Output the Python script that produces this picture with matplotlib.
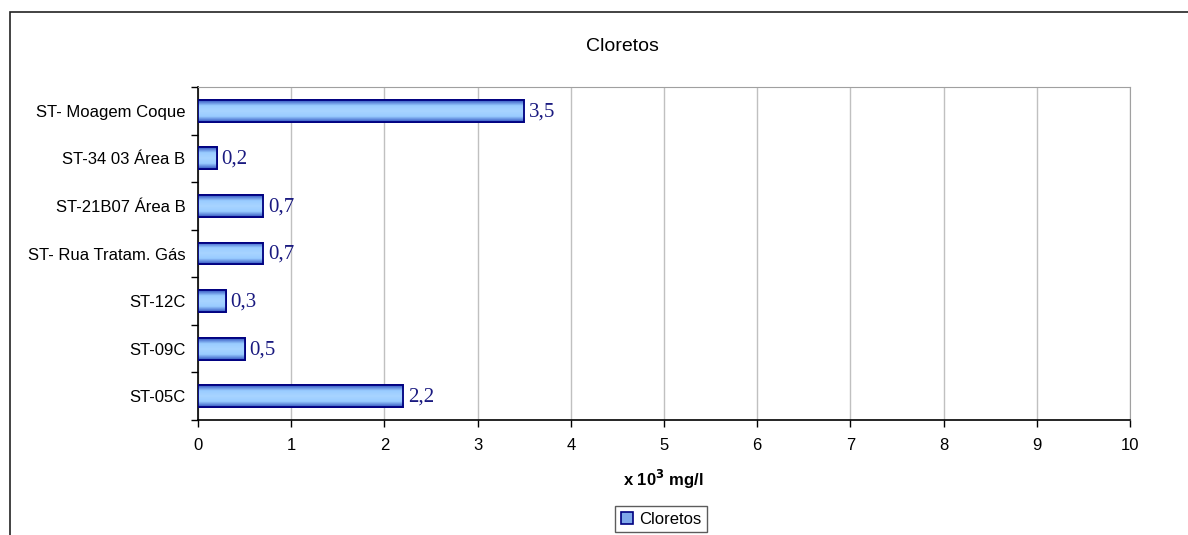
import matplotlib.pyplot as plt
import numpy as np
from matplotlib.colors import LinearSegmentedColormap
from matplotlib.patches import Rectangle

# data (bottom to top, as drawn)
estacoes = ["ST-05C", "ST-09C", "ST-12C", "ST- Rua Tratam. Gás",
            "ST-21B07 Área B", "ST-34 03 Área B", "ST- Moagem Coque"]
cloretos = [2.2, 0.5, 0.3, 0.7, 0.7, 0.2, 3.5]
rotulos = ["2,2", "0,5", "0,3", "0,7", "0,7", "0,2", "3,5"]
xticks = list(range(0, 11))

fig = plt.figure(figsize=(11.88, 5.35), dpi=100)
ax = fig.add_axes([198 / 1188, 1 - 420 / 535, (1130 - 198) / 1188, (420 - 87) / 535])

# outer chart border (left/top only visible)
fig.patches.append(Rectangle((10 / 1188, -0.1), 1.2, 1.1 - 11.5 / 535,
                             transform=fig.transFigure, fill=False,
                             edgecolor="#222222", linewidth=1.2))

y = np.arange(len(estacoes))
bars = ax.barh(y, cloretos, height=0.46, color="#8fbcf5",
               edgecolor="#000080", linewidth=1.3, zorder=3, label="Cloretos")

# vertical gradient inside the bars
cmap = LinearSegmentedColormap.from_list("grad", ["#3355c0", "#99ccff", "#a8d4ff", "#99ccff", "#3355c0"])
grad = np.linspace(0, 1, 64).reshape(-1, 1)
for b in bars:
    x0, y0 = b.get_x(), b.get_y()
    im = ax.imshow(grad, cmap=cmap, aspect="auto", zorder=3.5,
                   extent=[x0, x0 + b.get_width(), y0, y0 + b.get_height()])
    im.set_clip_path(b)
    ax.add_patch(Rectangle((x0, y0), b.get_width(), b.get_height(), fill=False,
                           edgecolor="#000080", linewidth=1.3, zorder=4))

for yi, v, t in zip(y, cloretos, rotulos):
    ax.text(v + 0.05, yi - 0.02, t, va="center", ha="left", color="#1a1a80",
            fontsize=15, family="Liberation Serif", zorder=5)

ax.set_xlim(0, 10)
ax.set_ylim(-0.5, len(estacoes) - 0.5)
ax.set_xticks(xticks)
ax.set_xticklabels([str(t) for t in xticks], fontsize=12, family="Liberation Sans")
ax.set_yticks(y)
ax.set_yticklabels(estacoes, fontsize=12, family="Liberation Sans")
ax.tick_params(axis="y", length=0, pad=9)
ax.set_yticks(np.arange(-0.5, len(estacoes), 1), minor=True)
ax.tick_params(axis="y", which="minor", length=5, direction="out", width=1)
ax.tick_params(axis="x", length=5, direction="out", width=1, pad=8)

ax.grid(axis="x", color="#c0c0c0", linewidth=1, zorder=0)
ax.set_axisbelow(True)
for s in ["top", "right"]:
    ax.spines[s].set_color("#a0a0a0")
for s in ["left", "bottom"]:
    ax.spines[s].set_color("black")
    ax.spines[s].set_linewidth(1.2)

fig.text(622 / 1188, 1 - 47 / 535, "Cloretos", ha="center", va="center",
         fontsize=14, family="Liberation Sans")
fig.text(663 / 1188, 1 - 479 / 535, r"x 10$^{\mathbf{3}}$ mg/l", ha="center", va="center",
         fontsize=12, fontweight="bold", family="Liberation Sans")

leg = fig.legend(handles=[Rectangle((0, 0), 1, 1, facecolor="#7fa8ea", edgecolor="#000080", linewidth=1.2)],
                 labels=["Cloretos"], loc="center", bbox_to_anchor=(661 / 1188, 1 - 519 / 535),
                 fancybox=False, edgecolor="#333333", handlelength=0.7, handleheight=0.7,
                 handletextpad=0.35, borderpad=0.35, prop={"family": "Liberation Sans", "size": 12})
leg.get_frame().set_linewidth(1)

fig.savefig("out.png", dpi=100)
